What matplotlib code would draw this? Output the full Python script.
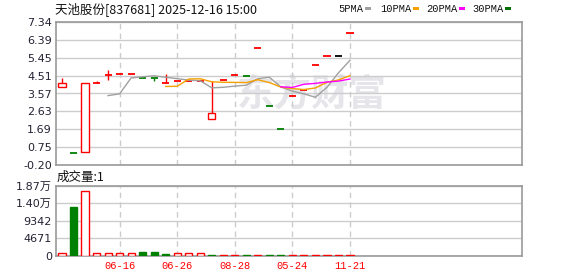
import numpy as np
import pandas as pd
import matplotlib
matplotlib.use("Agg")
import matplotlib.pyplot as plt
from matplotlib.patches import Rectangle

# daily candles (open / high / low / close) and volume
opens  = [3.90, 0.42, 0.48, 4.11, 4.53, 4.58, 4.61, 4.41, 4.40, 4.11, 4.22, 4.23, 4.24,
          2.21, 4.27, 4.53, 4.48, 5.95, 2.90, 1.72, 3.43, 3.75, 5.06, 5.53, 5.53, 6.74]
highs  = [4.39, 0.42, 4.11, 4.23, 4.81, 4.58, 4.61, 4.41, 4.40, 4.60, 4.22, 4.23, 4.24,
          4.21, 4.27, 4.53, 4.48, 5.95, 2.90, 1.72, 3.50, 3.75, 5.06, 5.53, 5.53, 6.74]
lows   = [3.90, 0.42, 0.48, 4.11, 4.28, 4.58, 4.61, 4.41, 4.22, 4.11, 4.22, 4.23, 4.24,
          2.21, 4.27, 4.53, 4.48, 5.95, 2.90, 1.72, 3.43, 3.75, 5.06, 5.53, 5.53, 6.74]
closes = [4.11, 0.42, 4.11, 4.12, 4.53, 4.58, 4.61, 4.41, 4.40, 4.12, 4.22, 4.23, 4.24,
          2.53, 4.27, 4.53, 4.48, 5.95, 2.90, 1.72, 3.43, 3.75, 5.06, 5.53, 5.53, 6.74]
volumes = [600, 13100, 17300, 800, 800, 800, 800, 900, 900, 350, 800, 800, 800,
           250, 250, 250, 250, 250, 250, 250, 250, 250, 250, 250, 250, 250]

date_ticks = [5, 10, 15, 20, 25]
date_labels = ["06-16", "06-26", "08-28", "05-24", "11-21"]
price_ticks = [-0.20, 0.75, 1.69, 2.63, 3.57, 4.51, 5.45, 6.39, 7.34]
vol_ticks = [0, 4671, 9342, 14013, 18684]
vol_labels = ["0", "4671", "9342", "1.40万", "1.87万"]

ma_periods = [5, 10, 20, 30]
ma_colors = ["#a0a0a0", "#f5a000", "#ff00ff", "#007000"]

RED = "#ff0000"
GREEN = "#008000"
GRID = "#cccccc"
EDGE = "#999999"
LBL = "#222233"
CJK = ["DejaVu Sans", "Noto Sans CJK SC"]

fig = plt.figure(figsize=(5.78, 2.76), dpi=100)
W, H = 578.0, 276.0
ax = fig.add_axes([56 / W, 1 - 165 / H, 466 / W, 143 / H])
axv = fig.add_axes([56 / W, 1 - 255.5 / H, 466 / W, 69.5 / H])

n = len(closes)
x = np.arange(n)
xlim = (-0.52, 39.93)

for a in (ax, axv):
    a.set_xlim(*xlim)
    a.set_xticks(date_ticks)
    a.grid(axis="y", color=GRID, lw=1, ls="-")
    a.grid(axis="x", color=GRID, lw=1, ls=(0, (4, 3)))
    a.set_axisbelow(True)
    for s in a.spines.values():
        s.set_color(EDGE)
        s.set_linewidth(1.2)
    a.tick_params(length=0, pad=3)

# watermark
ax.text(0.55, 0.49, "东方财富", transform=ax.transAxes, ha="center", va="center",
        fontsize=27, color="#e6e6ea", family="Noto Sans CJK SC", weight="bold", zorder=0)

# candles
w = 0.62
for i in range(n):
    o, h, l, c = opens[i], highs[i], lows[i], closes[i]
    prev = closes[i - 1] if i > 0 else o
    if c > o:
        col = RED
    elif c < o:
        col = GREEN
    else:
        col = RED if c > prev else (GREEN if c < prev else "black")
    ax.vlines(i, l, h, color=col, lw=1, zorder=2)
    if abs(c - o) > 0.02:
        fc = "white" if col == RED else col
        ax.bar(i, abs(c - o), bottom=min(o, c), width=w, facecolor=fc,
               edgecolor=col, lw=1, zorder=3)
    else:
        ax.hlines(c, i - w / 2, i + w / 2, color=col, lw=1.3, zorder=3)

# moving averages
s = pd.Series(closes)
for p, mc in zip(ma_periods, ma_colors):
    ma = s.rolling(p).mean()
    ax.plot(x, ma, color=mc, lw=1, zorder=4)

ax.set_ylim(price_ticks[0], price_ticks[-1])
ax.set_yticks(price_ticks)
ax.set_yticklabels(["%.2f" % v for v in price_ticks], fontsize=8, color=LBL)
ax.set_xticklabels([])

# volume bars
for i in range(n):
    prev = closes[i - 1] if i > 0 else opens[i]
    if closes[i] >= prev:
        axv.bar(i, volumes[i], width=w, facecolor="white", edgecolor=RED, lw=1, zorder=3)
    else:
        axv.bar(i, volumes[i], width=w, facecolor=GREEN, edgecolor=GREEN, lw=1, zorder=3)

axv.set_ylim(0, vol_ticks[-1])
axv.set_yticks(vol_ticks)
axv.set_yticklabels(vol_labels, fontsize=8, color=LBL, family=CJK)
axv.set_xticklabels(date_labels, fontsize=7.5, color=RED, family="Liberation Mono")
axv.tick_params(axis="x", pad=4)

# header texts
fig.text(55 / W, 1 - 9 / H, "天池股份[837681] 2025-12-16 15:00", fontsize=9,
         family="Noto Sans CJK SC", va="center", ha="left", color="#111111")
fig.text(57 / W, 1 - 177.5 / H, "成交量:1", fontsize=9,
         family="Noto Sans CJK SC", va="center", ha="left", color="#111111")

leg_x = [338, 380, 426, 472]
for j, (p, mc) in enumerate(zip(ma_periods, ma_colors)):
    label = "%dPMA" % p
    fig.text(leg_x[j] / W, 1 - 9 / H, label, fontsize=7.5, family="Liberation Mono",
             va="center", ha="left", color="#111111")
    sx = leg_x[j] + 6 * len(label) + 3
    fig.add_artist(Rectangle((sx / W, 1 - 10 / H), 6 / W, 3 / H,
                             transform=fig.transFigure, color=mc, lw=0))

fig.savefig("out.png", dpi=100)
